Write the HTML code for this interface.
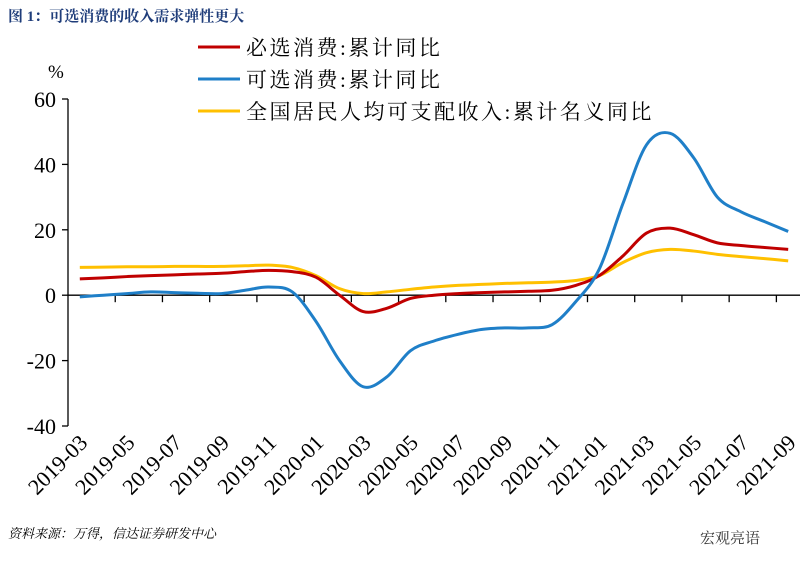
<!DOCTYPE html>
<html><head><meta charset="utf-8"><style>
body{margin:0;background:#fff;width:806px;height:572px;overflow:hidden;font-family:"Liberation Serif","Noto Serif CJK SC",serif}
</style></head><body>
<svg id="c" width="806" height="572" xmlns="http://www.w3.org/2000/svg" font-family="Liberation Serif, Noto Serif CJK SC, serif"></svg>
<script>
const months=['2019-03','2019-04','2019-05','2019-06','2019-07','2019-08','2019-09','2019-10','2019-11','2019-12','2020-01','2020-02','2020-03','2020-04','2020-05','2020-06','2020-07','2020-08','2020-09','2020-10','2020-11','2020-12','2021-01','2021-02','2021-03','2021-04','2021-05','2021-06','2021-07','2021-08','2021-09'];
const necessary=[5,5.3,5.7,6,6.2,6.5,6.7,7.2,7.6,7.2,5.5,0,-5,-4,-1,0,0.5,0.8,1,1.2,1.5,3,6,12,19,20.5,18.5,16,15.2,14.6,14];
const optional=[-0.5,0,0.5,1,0.8,0.6,0.5,1.5,2.5,1,-8,-20,-28,-25,-17,-14,-12,-10.5,-10,-10,-9,-2,8,28,46,49.5,42,30,25.5,22.5,19.5];
const income=[8.5,8.6,8.7,8.7,8.8,8.8,8.8,9,9.2,8.5,6,2,0.5,1,1.8,2.5,3,3.3,3.6,3.8,4,4.5,6,10,13,14,13.5,12.5,11.8,11.2,10.5];
const yTicks=[60,40,20,0,-20,-40];
const xLabels=['2019-03','2019-05','2019-07','2019-09','2019-11','2020-01','2020-03','2020-05','2020-07','2020-09','2020-11','2021-01','2021-03','2021-05','2021-07','2021-09'];
const NS='http://www.w3.org/2000/svg',svg=document.getElementById('c');
const x0=68,x1=800,yT=99,yB=426;
const step=(x1-x0)/months.length;
const xs=i=>x0+step*(i+0.5);
const ys=v=>yB-(v+40)/100*(yB-yT);
function mk(t,a,p){const e=document.createElementNS(NS,t);for(const k in a)e.setAttribute(k,a[k]);(p||svg).appendChild(e);return e;}
let t=mk('text',{x:8,y:21,'font-size':15,'font-weight':'bold',fill:'#1f3d7a'});t.textContent='图 1：可选消费的收入需求弹性更大';


let u=mk('text',{x:48,y:78,'font-size':19,fill:'#000'});u.textContent='%';


let ya=mk('line',{x1:x0,y1:yT,x2:x0,y2:yB,stroke:'#000','stroke-width':1.3});


yTicks.forEach(v=>{mk('line',{x1:x0-6,x2:x0,y1:ys(v),y2:ys(v),stroke:'#000','stroke-width':1.3});
 const l=mk('text',{x:x0-12,y:ys(v)+8,'font-size':22,'text-anchor':'end'});l.textContent=v;
 
 });
let xa=mk('line',{x1:x0,y1:ys(0),x2:x1,y2:ys(0),stroke:'#000','stroke-width':1.3});


for(let k=2;k<months.length;k+=2){const x=x0+step*k;mk('line',{x1:x,x2:x,y1:ys(0),y2:ys(0)+7,stroke:'#000','stroke-width':1.3});}
xLabels.forEach(m=>{const i=months.indexOf(m),x=xs(i);
 const l=mk('text',{'font-size':22,'text-anchor':'end',transform:`translate(${x+9},${444}) rotate(-45)`});l.textContent=m;
 
 });
function path(arr){const p=arr.map((v,i)=>[xs(i),ys(v)]);let d=`M${p[0][0]},${p[0][1]}`;
 for(let i=0;i<p.length-1;i++){const a=p[i-1]||p[i],b=p[i],c=p[i+1],e=p[i+2]||c;
  d+=`C${b[0]+(c[0]-a[0])/6},${b[1]+(c[1]-a[1])/6} ${c[0]-(e[0]-b[0])/6},${c[1]-(e[1]-b[1])/6} ${c[0]},${c[1]}`;}return d;}
const series=[[income,'#ffc000','income-line'],[necessary,'#c00000','necessary-line'],[optional,'#1f7fc8','optional-line']];
series.forEach(s=>{const p=mk('path',{d:path(s[0]),fill:'none',stroke:s[1],'stroke-width':3});
 
 });
const leg=[['必选消费:累计同比','#c00000'],['可选消费:累计同比','#1f7fc8'],['全国居民人均可支配收入:累计名义同比','#ffc000']];
leg.forEach((l,i)=>{const y=47+i*32;const g=mk('g',{});
 
 
 mk('line',{x1:198,x2:240,y1:y,y2:y,stroke:l[1],'stroke-width':3},g);
 const tx=mk('text',{x:246,y:y+8,'font-size':21,'letter-spacing':2.5},g);tx.textContent=l[0];});
let s=mk('text',{x:8,y:538,'font-size':13,'font-style':'italic'});s.textContent='资料来源：万得，信达证券研发中心';


let w=mk('text',{x:700,y:543,'font-size':15,fill:'#333'});w.textContent='宏观亮语';


</script>
</body></html>
